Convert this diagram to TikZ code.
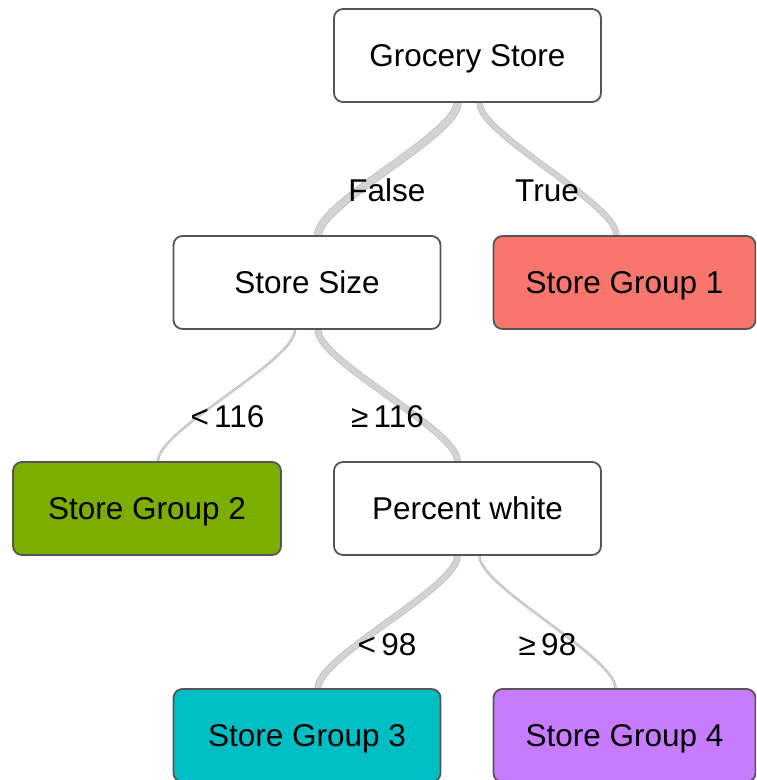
\documentclass[tikz,border=0pt]{standalone}
\usepackage{fontspec}
\setmainfont{Liberation Sans}
\usetikzlibrary{calc,backgrounds}
\definecolor{gOne}{HTML}{F8766D}
\definecolor{gTwo}{HTML}{7CAE00}
\definecolor{gThree}{HTML}{00BFC4}
\definecolor{gFour}{HTML}{C77CFF}
\definecolor{boxline}{HTML}{555555}
\definecolor{linkfill}{HTML}{D3D3D3}
\definecolor{linkedge}{HTML}{B5B5B5}
\tikzset{
  treebox/.style={draw=boxline, line width=1.8pt, rounded corners=9pt, fill=white,
    minimum width=267pt, minimum height=93pt, inner sep=0pt,
    font=\fontsize{31.5}{38}\selectfont, text height=22.5pt, text depth=0pt},
  leafbox/.style={treebox, minimum width=262pt},
  edgelabel/.style={font=\fontsize{31.5}{38}\selectfont, anchor=base, inner sep=0pt},
  link/.style={draw=linkedge, line width=0.6pt, double=linkfill, double distance=#1},
  link/.default=6pt,
  every to/.style={out=-90, in=90, looseness=0.42}
}
\begin{document}
\begin{tikzpicture}[x=1pt,y=1pt]
\useasboundingbox (0,0) rectangle (756,-780);
\clip (0,0) rectangle (756,-780);
% nodes
\node[treebox] (gs) at (467.5,-55.5) {Grocery Store};
\node[treebox] (ss) at (307,-282.5) {Store Size};
\node[leafbox, fill=gOne] (sg1) at (624.5,-282.5) {Store Group 1};
\node[treebox, minimum width=268pt, fill=gTwo] (sg2) at (147,-508.5) {Store Group 2};
\node[treebox] (pw) at (467.5,-508.5) {Percent white};
\node[treebox, fill=gThree] (sg3) at (307,-735.5) {Store Group 3};
\node[leafbox, fill=gFour] (sg4) at (624.5,-735.5) {Store Group 4};
% links
\begin{scope}[on background layer]
\draw[link=7pt] ($(gs.south)+(-10,0)$) to ($(ss.north)+(11,0)$);
\draw[link=5pt] ($(gs.south)+(12,0)$) to ($(sg1.north)+(-8,0)$);
\draw[link=1.2pt] ($(ss.south)+(-12,0)$) to ($(sg2.north)+(11,0)$);
\draw[link=5.5pt] ($(ss.south)+(11,0)$) to ($(pw.north)+(-10,0)$);
\draw[link=5.5pt] ($(pw.south)+(-10,0)$) to ($(sg3.north)+(11,0)$);
\draw[link=1.2pt] ($(pw.south)+(12,0)$) to ($(sg4.north)+(-9,0)$);
\end{scope}
% labels
\node[edgelabel] (lf) at (387,-201) {False};
\node[edgelabel] (lt) at (547,-201) {True};
\node[edgelabel] (l1) at (227.5,-427) {<\,116};
\node[edgelabel] (l2) at (387.5,-427) {≥\,116};
\node[edgelabel] (l3) at (387,-655) {<\,98};
\node[edgelabel] (l4) at (547.5,-655) {≥\,98};
\end{tikzpicture}
\end{document}
